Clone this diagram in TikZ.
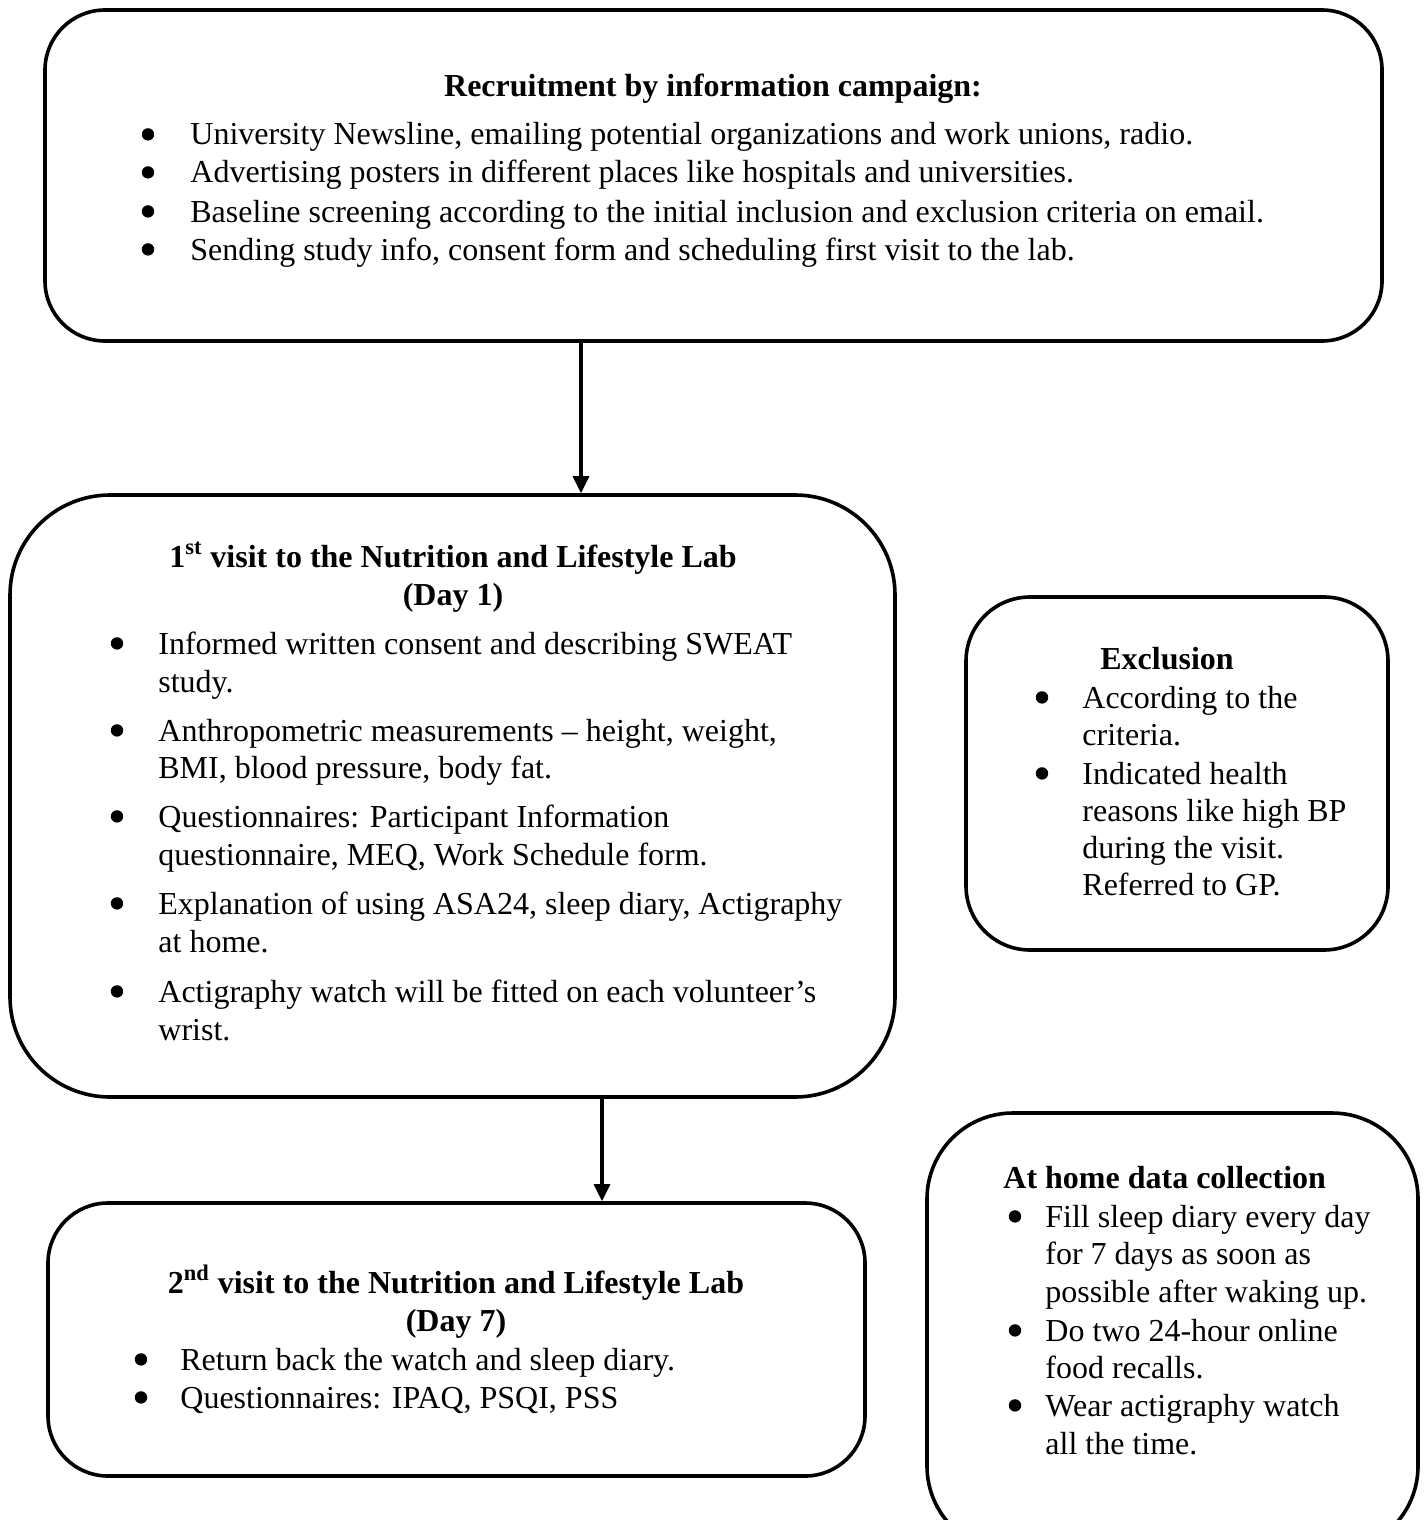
\documentclass[tikz,border=0pt]{standalone}
\usepackage{fontspec}
\setmainfont{Liberation Serif}
\usetikzlibrary{arrows.meta,fit}
\begin{document}
\begin{tikzpicture}[x=0.5pt,y=-0.5pt,
  box/.style={draw, line width=1.8pt, inner sep=0pt},
  txt/.style={anchor=base west, inner sep=0pt, font=\fontsize{16pt}{18.75pt}\selectfont},
  ttl/.style={anchor=base, inner sep=0pt, font=\fontsize{16pt}{18.75pt}\selectfont\bfseries},
  ttlw/.style={anchor=base west, inner sep=0pt, font=\fontsize{16pt}{18.75pt}\selectfont\bfseries},
  bul/.style={circle, fill, inner sep=0pt, minimum size=6.2pt, yshift=5.3pt},
  arr/.style={line width=1.6pt, -{Triangle[width=8pt,length=8.5pt]}}]
\useasboundingbox (0,0) rectangle (1426,1520);
\clip (0,0) rectangle (1426,1520);

% ---------- Box 1: recruitment ----------
\node[box, rounded corners=30pt, fit={(45,10) (1382,341)}] (rec) {};
\node[ttl] (recT) at (713,97) {Recruitment by information campaign:};
\node[bul] (recB1) at (148,145) {};
\node[txt] (recL1) at (190,145) {University Newsline, emailing potential organizations and work unions, radio.};
\node[bul] (recB2) at (148,183) {};
\node[txt] (recL2) at (190,183) {Advertising posters in different places like hospitals and universities.};
\node[bul] (recB3) at (148,222) {};
\node[txt] (recL3) at (190,222) {Baseline screening according to the initial inclusion and exclusion criteria on email.};
\node[bul] (recB4) at (148,260) {};
\node[txt] (recL4) at (190,260) {Sending study info, consent form and scheduling first visit to the lab.};

% ---------- Box 2: first visit ----------
\node[box, rounded corners=50pt, fit={(10,495) (895,1097)}] (v1) {};
\node[ttl] (v1T1) at (453,567) {1\textsuperscript{st} visit to the Nutrition and Lifestyle Lab};
\node[ttl] (v1T2) at (453,605) {(Day 1)};
\node[bul] (v1B1) at (117,654) {};
\node[txt] (v1L1) at (158,654) {Informed written consent and describing SWEAT};
\node[txt] (v1L2) at (158,692) {study.};
\node[bul] (v1B2) at (117,741) {};
\node[txt] (v1L3) at (158,741) {Anthropometric measurements – height, weight,};
\node[txt] (v1L4) at (158,778) {BMI, blood pressure, body fat.};
\node[bul] (v1B3) at (117,827) {};
\node[txt] (v1L5) at (158,827) {Questionnaires: Participant Information};
\node[txt] (v1L6) at (158,865) {questionnaire, MEQ, Work Schedule form.};
\node[bul] (v1B4) at (117,914) {};
\node[txt] (v1L7) at (158,914) {Explanation of using ASA24, sleep diary, Actigraphy};
\node[txt] (v1L8) at (158,952) {at home.};
\node[bul] (v1B5) at (117,1002) {};
\node[txt] (v1L9) at (158,1002) {Actigraphy watch will be fitted on each volunteer’s};
\node[txt] (v1L10) at (158,1040) {wrist.};

% ---------- Box: exclusion ----------
\node[box, rounded corners=32pt, fit={(966,597) (1388,950)}] (exc) {};
\node[ttl] (excT) at (1167,669) {Exclusion};
\node[bul] (excB1) at (1042,708) {};
\node[txt] (excL1) at (1082,708) {According to the};
\node[txt] (excL2) at (1082,745) {criteria.};
\node[bul] (excB2) at (1042,784) {};
\node[txt] (excL3) at (1082,784) {Indicated health};
\node[txt] (excL4) at (1082,821) {reasons like high BP};
\node[txt] (excL5) at (1082,858) {during the visit.};
\node[txt] (excL6) at (1082,895) {Referred to GP.};

% ---------- Box 3: second visit ----------
\node[box, rounded corners=30pt, fit={(48,1203) (865,1476)}] (v2) {};
\node[ttl] (v2T1) at (456,1293) {2\textsuperscript{nd} visit to the Nutrition and Lifestyle Lab};
\node[ttl] (v2T2) at (456,1331) {(Day 7)};
\node[bul] (v2B1) at (141,1370) {};
\node[txt] (v2L1) at (180,1370) {Return back the watch and sleep diary.};
\node[bul] (v2B2) at (141,1408) {};
\node[txt] (v2L2) at (180,1408) {Questionnaires: IPAQ, PSQI, PSS};

% ---------- Box 4: at home ----------
\node[box, rounded corners=43pt, fit={(927,1113) (1418,1552)}] (home) {};
\node[ttlw] (homeT) at (1003,1188) {At home data collection};
\node[bul] (homeB1) at (1015,1227) {};
\node[txt] (homeL1) at (1045,1227) {Fill sleep diary every day};
\node[txt] (homeL2) at (1045,1264) {for 7 days as soon as};
\node[txt] (homeL3) at (1045,1302) {possible after waking up.};
\node[bul] (homeB2) at (1015,1341) {};
\node[txt] (homeL4) at (1045,1341) {Do two 24-hour online};
\node[txt] (homeL5) at (1045,1378) {food recalls.};
\node[bul] (homeB3) at (1015,1416) {};
\node[txt] (homeL6) at (1045,1416) {Wear actigraphy watch};
\node[txt] (homeL7) at (1045,1454) {all the time.};

% ---------- connectors ----------
\coordinate (ax1) at (581,0);
\coordinate (ax2) at (602,0);
\draw[arr] (rec.south -| ax1) -- (v1.north -| ax1);
\draw[arr] (v1.south -| ax2) -- (v2.north -| ax2);
\end{tikzpicture}
\end{document}
